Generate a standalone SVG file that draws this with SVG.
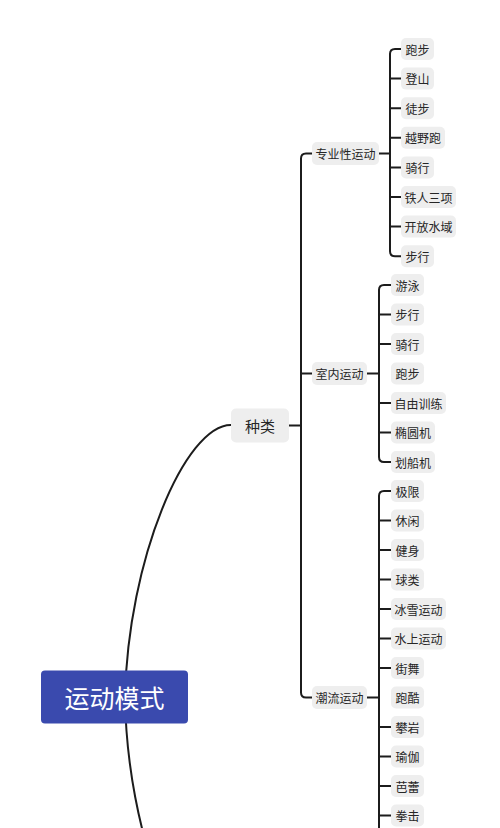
<svg xmlns="http://www.w3.org/2000/svg" width="500" height="828" viewBox="0 0 500 828">
<style>
.c{fill:none;stroke:#1c1c1c;stroke-width:2;stroke-linecap:round}
.n rect{fill:#eeeeee}
.n text{font-family:"Noto Sans CJK SC","Noto Sans",sans-serif;font-size:12px;fill:#262626;text-anchor:middle;dominant-baseline:central}
#root rect{fill:#3a4aae}
#root text{font-family:"Noto Sans CJK SC","Noto Sans",sans-serif;font-size:25px;fill:#ffffff;text-anchor:middle;dominant-baseline:central}
#n-zl text{font-size:15px}
</style>
<rect width="500" height="828" fill="#ffffff"/>
<g id="connectors">
<path class="c" d="M125 697 C128 560 185 425 231 425"/>
<path class="c" d="M125 697 C127 834 180 969 231 969"/>
<path class="c" d="M289 425.5 H301"/>
<path class="c" d="M312 153.5 H306 Q301 153.5 301 158.5 V692.5 Q301 697.5 306 697.5 H312"/>
<path class="c" d="M301 373.5 H312"/>
<path class="c" d="M379 153.5 H390"/>
<path class="c" d="M401 49 H395 Q390 49 390 54 V251.2 Q390 256.2 395 256.2 H401"/>
<path class="c" d="M390 78.6 H401 M390 108.2 H401 M390 137.8 H401 M390 167.4 H401 M390 197 H401 M390 226.6 H401"/>
<path class="c" d="M367 373.5 H379"/>
<path class="c" d="M391 285 H384 Q379 285 379 290 V457 Q379 462 384 462 H391"/>
<path class="c" d="M379 314.5 H391 M379 344 H391 M379 403 H391 M379 432.5 H391"/>
<path class="c" d="M367 697.5 H379"/>
<path class="c" d="M391 491 H384 Q379 491 379 496 V840"/>
<path class="c" d="M379 520.5 H391 M379 550 H391 M379 579.5 H391 M379 609 H391 M379 638.5 H391 M379 668 H391 M379 727 H391 M379 756.5 H391 M379 786 H391 M379 815.5 H391"/>
</g>
<g id="root"><rect x="41" y="670.5" width="147" height="53" rx="4"/><text x="114.5" y="697">运动模式</text></g>
<g id="n-zl" class="n"><rect x="231" y="408.5" width="58" height="34" rx="5"/><text x="260" y="425.5">种类</text></g>
<g id="n-zy" class="n"><rect x="312" y="142" width="67" height="23" rx="5"/><text x="345.5" y="153.5">专业性运动</text></g>
<g id="n-sn" class="n"><rect x="312" y="362" width="55" height="23" rx="5"/><text x="339.5" y="373.5">室内运动</text></g>
<g id="n-cl" class="n"><rect x="312" y="686" width="55" height="23" rx="5"/><text x="339.5" y="697.5">潮流运动</text></g>
<g id="a1" class="n"><rect x="401" y="38" width="33" height="22" rx="5"/><text x="417.5" y="49">跑步</text></g>
<g id="a2" class="n"><rect x="401" y="67.6" width="33" height="22" rx="5"/><text x="417.5" y="78.6">登山</text></g>
<g id="a3" class="n"><rect x="401" y="97.2" width="33" height="22" rx="5"/><text x="417.5" y="108.2">徒步</text></g>
<g id="a4" class="n"><rect x="401" y="126.8" width="44" height="22" rx="5"/><text x="423" y="137.8">越野跑</text></g>
<g id="a5" class="n"><rect x="401" y="156.4" width="33" height="22" rx="5"/><text x="417.5" y="167.4">骑行</text></g>
<g id="a6" class="n"><rect x="401" y="186" width="55" height="22" rx="5"/><text x="428.5" y="197">铁人三项</text></g>
<g id="a7" class="n"><rect x="401" y="215.6" width="55" height="22" rx="5"/><text x="428.5" y="226.6">开放水域</text></g>
<g id="a8" class="n"><rect x="401" y="245.2" width="33" height="22" rx="5"/><text x="417.5" y="256.2">步行</text></g>
<g id="b1" class="n"><rect x="391" y="274" width="33" height="22" rx="5"/><text x="407.5" y="285">游泳</text></g>
<g id="b2" class="n"><rect x="391" y="303.5" width="33" height="22" rx="5"/><text x="407.5" y="314.5">步行</text></g>
<g id="b3" class="n"><rect x="391" y="333" width="33" height="22" rx="5"/><text x="407.5" y="344">骑行</text></g>
<g id="b4" class="n"><rect x="391" y="362.5" width="33" height="22" rx="5"/><text x="407.5" y="373.5">跑步</text></g>
<g id="b5" class="n"><rect x="391" y="392" width="55" height="22" rx="5"/><text x="418.5" y="403">自由训练</text></g>
<g id="b6" class="n"><rect x="391" y="421.5" width="44" height="22" rx="5"/><text x="413" y="432.5">椭圆机</text></g>
<g id="b7" class="n"><rect x="391" y="451" width="44" height="22" rx="5"/><text x="413" y="462">划船机</text></g>
<g id="c1" class="n"><rect x="391" y="480" width="33" height="22" rx="5"/><text x="407.5" y="491">极限</text></g>
<g id="c2" class="n"><rect x="391" y="509.5" width="33" height="22" rx="5"/><text x="407.5" y="520.5">休闲</text></g>
<g id="c3" class="n"><rect x="391" y="539" width="33" height="22" rx="5"/><text x="407.5" y="550">健身</text></g>
<g id="c4" class="n"><rect x="391" y="568.5" width="33" height="22" rx="5"/><text x="407.5" y="579.5">球类</text></g>
<g id="c5" class="n"><rect x="391" y="598" width="55" height="22" rx="5"/><text x="418.5" y="609">冰雪运动</text></g>
<g id="c6" class="n"><rect x="391" y="627.5" width="55" height="22" rx="5"/><text x="418.5" y="638.5">水上运动</text></g>
<g id="c7" class="n"><rect x="391" y="657" width="33" height="22" rx="5"/><text x="407.5" y="668">街舞</text></g>
<g id="c8" class="n"><rect x="391" y="686.5" width="33" height="22" rx="5"/><text x="407.5" y="697.5">跑酷</text></g>
<g id="c9" class="n"><rect x="391" y="716" width="33" height="22" rx="5"/><text x="407.5" y="727">攀岩</text></g>
<g id="c10" class="n"><rect x="391" y="745.5" width="33" height="22" rx="5"/><text x="407.5" y="756.5">瑜伽</text></g>
<g id="c11" class="n"><rect x="391" y="775" width="33" height="22" rx="5"/><text x="407.5" y="786">芭蕾</text></g>
<g id="c12" class="n"><rect x="391" y="804.5" width="33" height="22" rx="5"/><text x="407.5" y="815.5">拳击</text></g>
</svg>
